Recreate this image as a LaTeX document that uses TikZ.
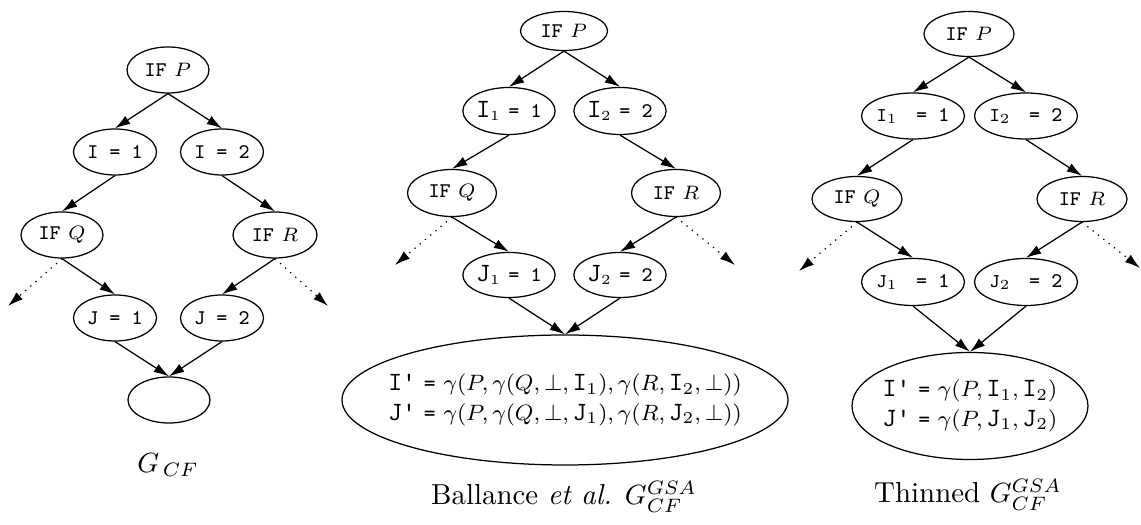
\documentclass[tikz,border=0pt]{standalone}
\usetikzlibrary{shapes.geometric,arrows.meta}
\newcommand\BigI{\mbox{\fontsize{9.5}{10}\selectfont\ttfamily I}}
\newcommand\BigJ{\mbox{\fontsize{9.5}{10}\selectfont\ttfamily J}}
\newcommand\BigIp{\mbox{\fontsize{9.5}{10}\selectfont\ttfamily I'}}
\newcommand\BigJp{\mbox{\fontsize{9.5}{10}\selectfont\ttfamily J'}}
\tikzset{
  ell/.style 2 args={ellipse,draw,line width=0.45pt,inner sep=0pt,
    minimum width=#1*0.36pt,minimum height=#2*0.36pt,font=\fontsize{7.5}{9}\selectfont},
  bigell/.style={inner xsep=-8pt,font=\footnotesize,align=center},
  arr/.style={-{Latex[length=5.5pt,width=3.4pt]},line width=0.45pt},
  darr/.style={arr,dotted},
  lab/.style={font=\fontsize{10.4}{12.5}\selectfont}
}
\begin{document}
\begin{tikzpicture}[x=0.36pt,y=-0.36pt]
\useasboundingbox (0,0) rectangle (1141,525);
% ---------------- left: G_CF
\node[ell={82}{46}] (lP) at (168,70) {\texttt{IF} $P$};
\node[ell={83}{46}] (lI1) at (115,152) {\texttt{I = 1}};
\node[ell={83}{46}] (lI2) at (222,152) {\texttt{I = 2}};
\node[ell={82}{46}] (lQ) at (62,235) {\texttt{IF} $Q$};
\node[ell={84}{46}] (lR) at (275,235) {\texttt{IF} $R$};
\node[ell={83}{46}] (lJ1) at (115,318) {\texttt{J = 1}};
\node[ell={83}{46}] (lJ2) at (222,318) {\texttt{J = 2}};
\node[ell={82}{46}] (lE) at (169,400) {};
\coordinate (lQx) at (8,306);
\coordinate (lRx) at (328,306);
\node[lab] (lLab) at (168,465) {$G_{\,CF}$};
\draw[arr] (lP.south) -- (lI1.north);
\draw[arr] (lP.south) -- (lI2.north);
\draw[arr] (lI1.south) -- (lQ.north);
\draw[arr] (lI2.south) -- (lR.north);
\draw[arr] (lQ.south) -- (lJ1.north);
\draw[arr] (lR.south) -- (lJ2.north);
\draw[darr] (lQ.south) -- (lQx);
\draw[darr] (lR.south) -- (lRx);
\draw[arr] (lJ1.south) -- (lE.north);
\draw[arr] (lJ2.south) -- (lE.north);
% ---------------- middle: Ballance et al.
\node[ell={87}{39}] (mP) at (564,31) {\texttt{IF} $P$};
\node[ell={89}{47}] (mI1) at (509,111) {$\BigI_1$ \texttt{= 1}};
\node[ell={88}{47}] (mI2) at (620,111) {$\BigI_2$ \texttt{= 2}};
\node[ell={89}{47}] (mQ) at (452,193) {\texttt{IF} $Q$};
\node[ell={89}{47}] (mR) at (676,193) {\texttt{IF} $R$};
\node[ell={89}{45}] (mJ1) at (509,275) {$\BigJ_1$ \texttt{= 1}};
\node[ell={89}{45}] (mJ2) at (620,275) {$\BigJ_2$ \texttt{= 2}};
\node[ell={446}{130},bigell] (mBig) at (565,400)
  {\BigIp\ \texttt{=} $\gamma(P,\gamma(Q,\bot,\BigI_1),\gamma(R,\BigI_2,\bot))$\\[1pt]
   \BigJp\ \texttt{=} $\gamma(P,\gamma(Q,\bot,\BigJ_1),\gamma(R,\BigJ_2,\bot))$};
\coordinate (mQx) at (395,265);
\coordinate (mRx) at (735,265);
\node[lab] (mLab) at (564,497) {Ballance \textit{et al.} $G^{GSA}_{CF}$};
\draw[arr] (mP.south) -- (mI1.north);
\draw[arr] (mP.south) -- (mI2.north);
\draw[arr] (mI1.south) -- (mQ.north);
\draw[arr] (mI2.south) -- (mR.north);
\draw[arr] (mQ.south) -- (mJ1.north);
\draw[arr] (mR.south) -- (mJ2.north);
\draw[darr] (mQ.south) -- (mQx);
\draw[darr] (mR.south) -- (mRx);
\draw[arr] (mJ1.south) -- (mBig.north);
\draw[arr] (mJ2.south) -- (mBig.north);
% ---------------- right: Thinned
\node[ell={90}{45}] (rP) at (969,34) {\texttt{IF} $P$};
\node[ell={90}{46}] (rI1) at (913,116) {$\mathtt{I}_1$ \texttt{ = 1}};
\node[ell={90}{46}] (rI2) at (1026,116) {$\mathtt{I}_2$ \texttt{ = 2}};
\node[ell={90}{45}] (rQ) at (857,199) {\texttt{IF} $Q$};
\node[ell={90}{45}] (rR) at (1082,199) {\texttt{IF} $R$};
\node[ell={90}{47}] (rJ1) at (913,282) {$\mathtt{J}_1$ \texttt{ = 1}};
\node[ell={90}{47}] (rJ2) at (1026,282) {$\mathtt{J}_2$ \texttt{ = 2}};
\node[ell={236}{107},bigell,inner xsep=-2pt] (rBig) at (970,406)
  {\BigIp\ \texttt{=} $\gamma(P,\BigI_1,\BigI_2)$\\[1pt]
   \BigJp\ \texttt{=} $\gamma(P,\BigJ_1,\BigJ_2)$};
\coordinate (rQx) at (799,271);
\coordinate (rRx) at (1140,268);
\node[lab] (rLab) at (968,495) {Thinned $G^{GSA}_{CF}$};
\draw[arr] (rP.south) -- (rI1.north);
\draw[arr] (rP.south) -- (rI2.north);
\draw[arr] (rI1.south) -- (rQ.north);
\draw[arr] (rI2.south) -- (rR.north);
\draw[arr] (rQ.south) -- (rJ1.north);
\draw[arr] (rR.south) -- (rJ2.north);
\draw[darr] (rQ.south) -- (rQx);
\draw[darr] (rR.south) -- (rRx);
\draw[arr] (rJ1.south) -- (rBig.north);
\draw[arr] (rJ2.south) -- (rBig.north);
\end{tikzpicture}
\end{document}
